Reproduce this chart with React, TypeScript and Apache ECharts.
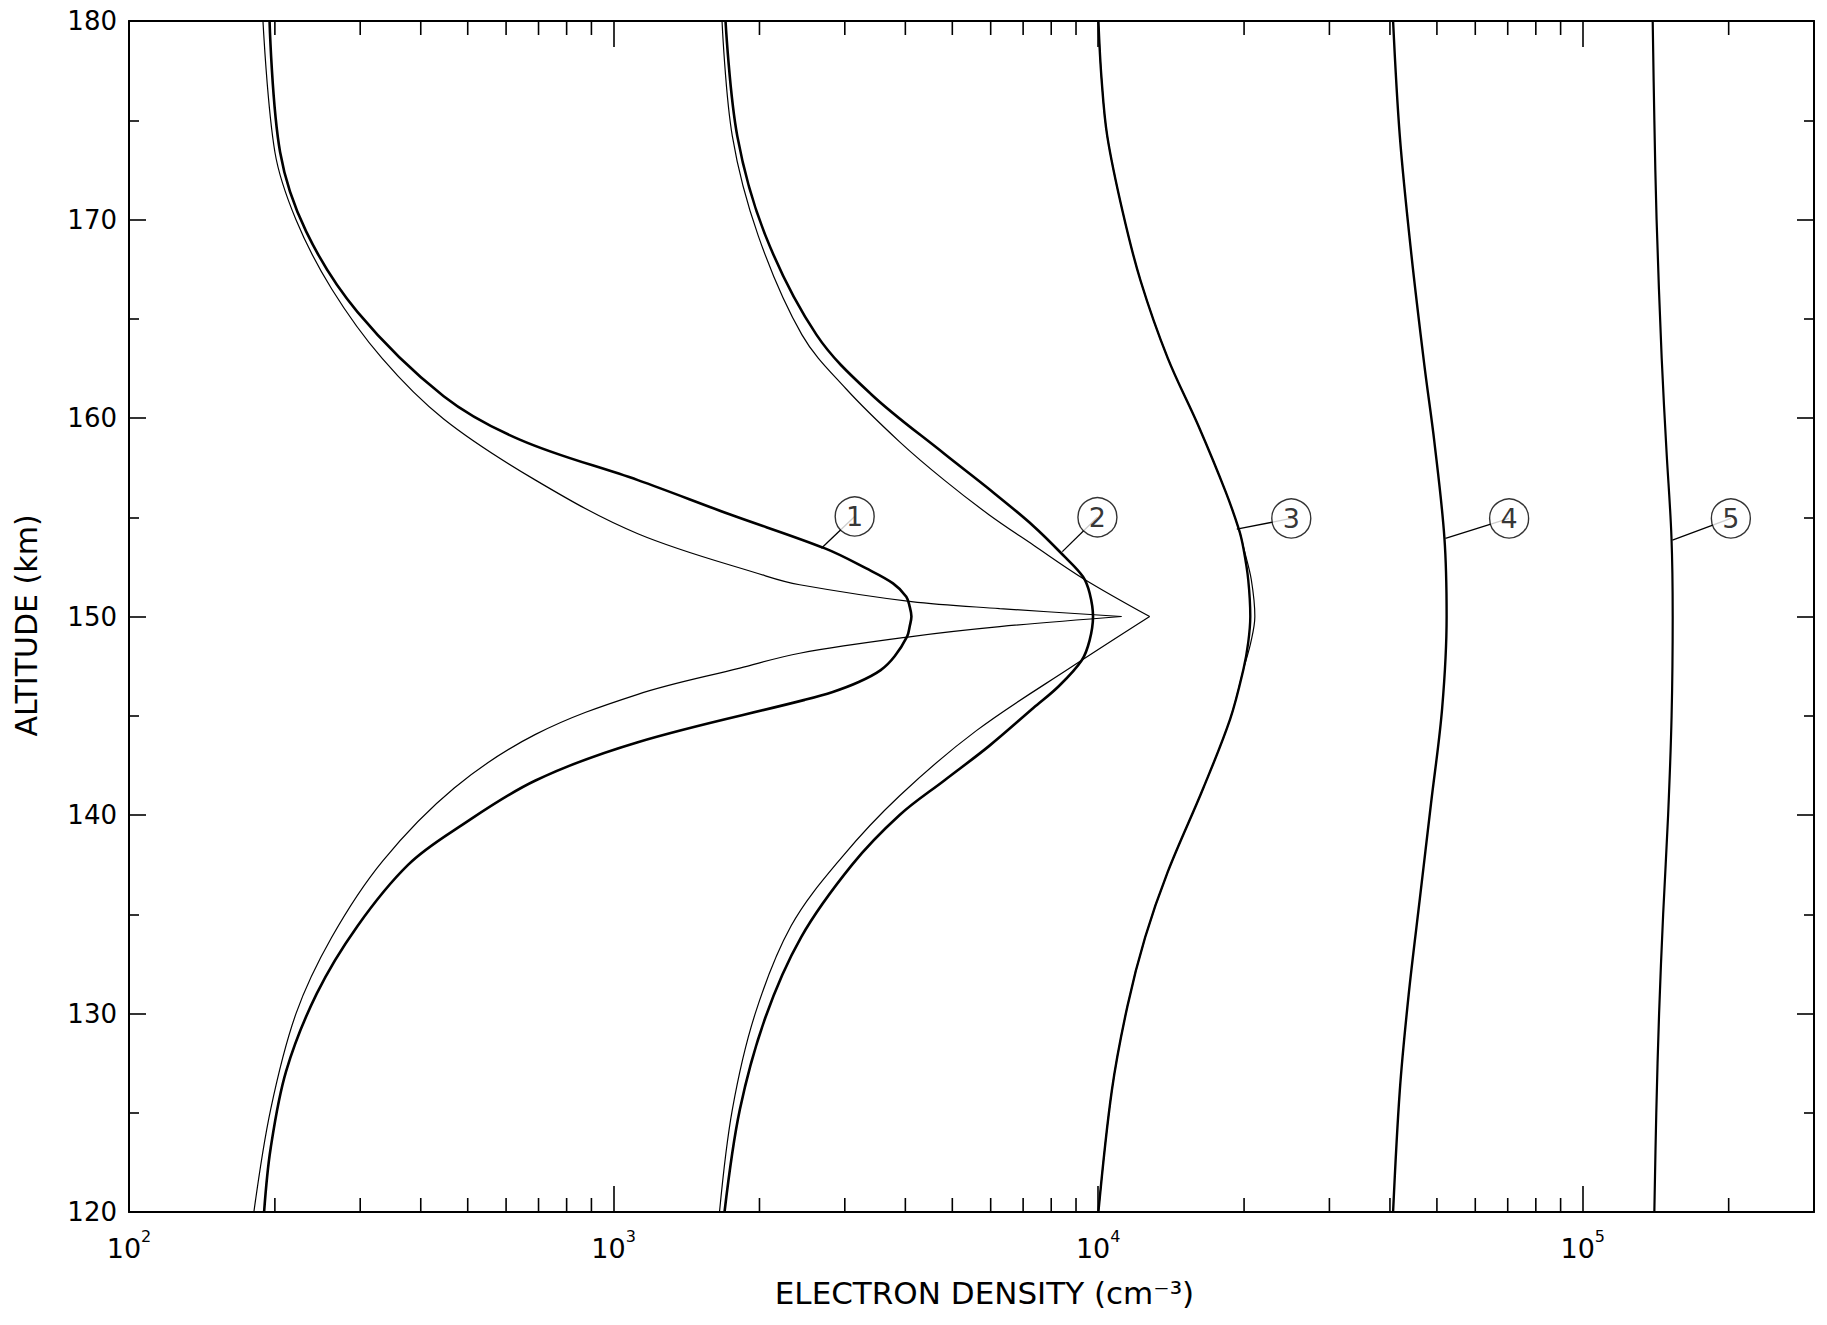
import React, { useEffect, useRef } from 'react';
import * as echarts from 'echarts';

// ---- axis ranges ----
const X_MIN = 100;
const X_MAX = 300000;
const Y_MIN = 120;
const Y_MAX = 180;
const Y_INTERVAL = 10;

// minor tick positions on the log axis (2..9 x each decade)
const minorTickValues = [
  200, 300, 400, 500, 600, 700, 800, 900,
  2000, 3000, 4000, 5000, 6000, 7000, 8000, 9000,
  20000, 30000, 40000, 50000, 60000, 70000, 80000, 90000,
  200000,
];

// ---- profiles: [altitude km, electron density cm^-3] ----
const profile1Thick = [
  [120, 190], [123.2, 196], [127.1, 211], [131.0, 244], [134.4, 296], [137.5, 377],
  [139.4, 480], [141.74, 690], [143.67, 1122], [145.8, 2479], [146.2, 2833], [146.7, 3205],
  [147.3, 3558], [148.0, 3802], [149.0, 4035], [149.5, 4083], [150.0, 4117], [150.5, 4083],
  [151.0, 4018], [151.67, 3772], [152.42, 3323], [153.43, 2730], [155.15, 1735],
  [156.87, 1122], [158.9, 642], [161.1, 446], [165.35, 296], [169.4, 232], [173.4, 205],
  [180, 195],
];
const profile1ThinLower = [
  [120, 181], [125.16, 196], [129.98, 221], [133.84, 262], [137.69, 334], [141.36, 469],
  [144.06, 690], [146.08, 1122], [147.4, 1822], [148.15, 2421],
  [148.99, 4117], [149.49, 6262], [150.0, 11170],
];
const profile1ThinUpper = [
  [150.0, 11170], [150.4, 6262], [150.75, 4117], [151.6, 2421], [152.05, 2057],
  [154.17, 1122], [156.87, 690], [159.95, 446], [163.0, 333],
  [166.5, 262], [170.0, 221], [173.4, 200], [180, 189],
];

const profile2Thick = [
  [120, 1694], [125.16, 1822], [129.8, 2057], [133.84, 2437], [137.5, 3107], [140.0, 3893],
  [141.74, 4813], [143.47, 5951], [145.4, 7357], [146.5, 8300], [147.8, 9250], [148.8, 9600],
  [150.0, 9757], [151.17, 9603], [152.0, 9304], [153.0, 8536], [154.55, 7357], [156.5, 5900],
  [158.2, 4813], [161.2, 3400], [164.2, 2621], [169.2, 2057], [174.2, 1800], [180, 1702],
];
const profile2ThinLower = [
  [120, 1654], [125.16, 1758], [129.98, 1959], [134.42, 2325], [137.88, 2960],
  [140.97, 3893], [144.25, 5606], [147.53, 8900], [150.0, 12770],
];
const profile2ThinUpper = [
  [150.0, 12770], [151.92, 9304], [153.59, 7357], [155.13, 5951], [156.87, 4813],
  [158.8, 3893], [161.5, 3010], [164.2, 2446], [169.2, 1987], [174.2, 1758], [180, 1674],
];

const profile3Thick = [
  [120, 10010], [126.12, 10670], [130.37, 11490], [133.84, 12500], [137.12, 13910],
  [141.36, 16480], [144.83, 18720], [147.34, 19940], [148.7, 20400], [150.0, 20600],
  [151.85, 20400], [153.4, 19950], [154.36, 19530], [156.29, 18320], [159.56, 16130],
  [163.03, 13910], [166.89, 12240], [170.36, 11240], [174.2, 10440], [177.1, 10160],
  [180, 10010],
];
const profile3Thin = [
  [120, 10010], [126.12, 10670], [130.37, 11490], [133.84, 12500], [137.12, 13910],
  [141.36, 16480], [144.83, 18720], [147.34, 19940], [148.7, 20650], [150.0, 21050],
  [151.85, 20700], [153.4, 19990], [154.36, 19530], [156.29, 18320], [159.56, 16130],
  [163.03, 13910], [166.89, 12240], [170.36, 11240], [174.2, 10440], [177.1, 10160],
  [180, 10010],
];

const profile4 = [
  [120, 40600], [126.13, 41920], [130.95, 43720], [135.77, 46100], [140.58, 48620],
  [145.4, 51270], [150.0, 52360], [153.97, 51810], [158.8, 49400], [162.65, 47110],
  [168.43, 44200], [174.2, 41920], [180, 40600],
];

const profile5 = [
  [120, 140500], [125, 141800], [130, 143700], [135, 146500], [140, 150000],
  [145, 152500], [150, 153300], [154, 152400], [158.4, 148800], [163, 145500],
  [170, 142000], [175, 140500], [180, 139400],
];

// ---- circled labels: number, centre [density, altitude], leader end [density, altitude]
const labelNumbers = ['1', '2', '3', '4', '5'];
const labelCenters = [
  [3144, 155.04], [9964, 155.0], [25030, 154.94], [70460, 154.94], [202100, 154.94],
];
const leaderEnds = [
  [2684, 153.44], [8433, 153.27], [19320, 154.4], [52070, 153.94], [153100, 153.85],
];

const FONT = '"DejaVu Sans", "Liberation Sans", sans-serif';
const INK = '#000';

const toXY = (arr: number[][]) => arr.map(([h, n]) => [n, h]);

function curve(name: string, arr: number[][], width: number) {
  return {
    name,
    type: 'line',
    data: toXY(arr),
    symbol: 'none',
    showSymbol: false,
    smooth: 0.35,
    silent: true,
    z: 3,
    lineStyle: { color: INK, width },
  };
}

function buildOption() {
  const series: any[] = [
    curve('1 thick', profile1Thick, 2.6),
    curve('1 thin lower', profile1ThinLower, 1.2),
    curve('1 thin upper', profile1ThinUpper, 1.2),
    curve('2 thick', profile2Thick, 2.6),
    curve('2 thin lower', profile2ThinLower, 1.2),
    curve('2 thin upper', profile2ThinUpper, 1.2),
    curve('3 thick', profile3Thick, 2.4),
    curve('3 thin', profile3Thin, 1.2),
    curve('4', profile4, 2.4),
    curve('5', profile5, 2.2),
  ];

  labelCenters.forEach((c, i) => {
    series.push({
      name: 'leader ' + labelNumbers[i],
      type: 'line',
      data: [c, leaderEnds[i]],
      symbol: 'none',
      showSymbol: false,
      silent: true,
      z: 4,
      lineStyle: { color: INK, width: 1.3 },
    });
  });

  series.push({
    name: 'labels',
    type: 'scatter',
    data: labelCenters.map((c, i) => [c[0], c[1], labelNumbers[i]]),
    symbol: 'circle',
    symbolSize: 39,
    silent: true,
    z: 6,
    itemStyle: { color: '#fff', borderColor: INK, borderWidth: 1.4 },
    label: {
      show: true,
      position: 'inside',
      formatter: (p: any) => p.value[2],
      fontSize: 27,
      fontFamily: FONT,
      color: INK,
    },
  });

  series.push({
    name: 'minor ticks',
    type: 'custom',
    silent: true,
    z: 2,
    data: minorTickValues.map((v) => [v, (Y_MIN + Y_MAX) / 2]),
    renderItem: (params: any, api: any) => {
      const v = api.value(0);
      const b = api.coord([v, Y_MIN]);
      const t = api.coord([v, Y_MAX]);
      const st = { stroke: INK, lineWidth: 1.6 };
      return {
        type: 'group',
        children: [
          { type: 'line', shape: { x1: b[0], y1: b[1], x2: b[0], y2: b[1] - 14 }, style: st },
          { type: 'line', shape: { x1: t[0], y1: t[1], x2: t[0], y2: t[1] + 14 }, style: st },
        ],
      };
    },
  });

  const xLabelFormatter = (v: number) => {
    const e = Math.log10(v);
    const r = Math.round(e);
    if (Math.abs(e - r) > 1e-6) return '';
    return '{b|10}{s|' + r + '}';
  };

  const xCommon = {
    type: 'log',
    logBase: 10,
    min: X_MIN,
    max: X_MAX,
    splitLine: { show: false },
    minorTick: { show: false },
    axisLine: { show: true, lineStyle: { color: INK, width: 2 } },
    axisTick: { show: true, inside: true, length: 26, lineStyle: { color: INK, width: 1.6 } },
  };
  const yCommon = {
    type: 'value',
    min: Y_MIN,
    max: Y_MAX,
    interval: Y_INTERVAL,
    splitLine: { show: false },
    axisLine: { show: true, lineStyle: { color: INK, width: 2 } },
    axisTick: { show: true, inside: true, length: 17, lineStyle: { color: INK, width: 1.6 } },
    minorTick: { show: true, splitNumber: 2, length: 10, lineStyle: { color: INK, width: 1.6 } },
  };

  return {
    animation: false,
    backgroundColor: '#fff',
    grid: { left: 129, right: 13, top: 21, bottom: 113, containLabel: false },
    xAxis: [
      {
        ...xCommon,
        position: 'bottom',
        name: 'ELECTRON DENSITY (cm⁻³)',
        nameLocation: 'middle',
        nameGap: 65,
        nameTextStyle: { fontSize: 31, fontFamily: FONT, color: INK, padding: [0, 0, 0, 26] },
        axisLabel: {
          show: true,
          margin: 16,
          formatter: xLabelFormatter,
          rich: {
            b: { fontSize: 27, fontFamily: FONT, color: INK, lineHeight: 34, verticalAlign: 'bottom' },
            s: { fontSize: 16, fontFamily: FONT, color: INK, lineHeight: 6, verticalAlign: 'top' },
          },
        },
      },
      { ...xCommon, position: 'top', axisLabel: { show: false } },
    ],
    yAxis: [
      {
        ...yCommon,
        position: 'left',
        name: 'ALTITUDE (km)',
        nameLocation: 'middle',
        nameGap: 88,
        nameTextStyle: { fontSize: 30, fontFamily: FONT, color: INK, padding: [0, 18, 0, 0] },
        axisLabel: { show: true, margin: 12, fontSize: 26, fontFamily: FONT, color: INK },
      },
      { ...yCommon, position: 'right', axisLabel: { show: false } },
    ],
    series,
  };
}

export default function App() {
  const ref = useRef<HTMLDivElement>(null);
  useEffect(() => {
    if (!ref.current) return;
    const chart = echarts.init(ref.current, null, { renderer: 'svg' });
    chart.setOption(buildOption() as any);
    return () => chart.dispose();
  }, []);
  return (
    <div
      ref={ref}
      style={{ position: 'fixed', left: 0, top: 0, width: 1827, height: 1325, background: '#fff' }}
    />
  );
}
